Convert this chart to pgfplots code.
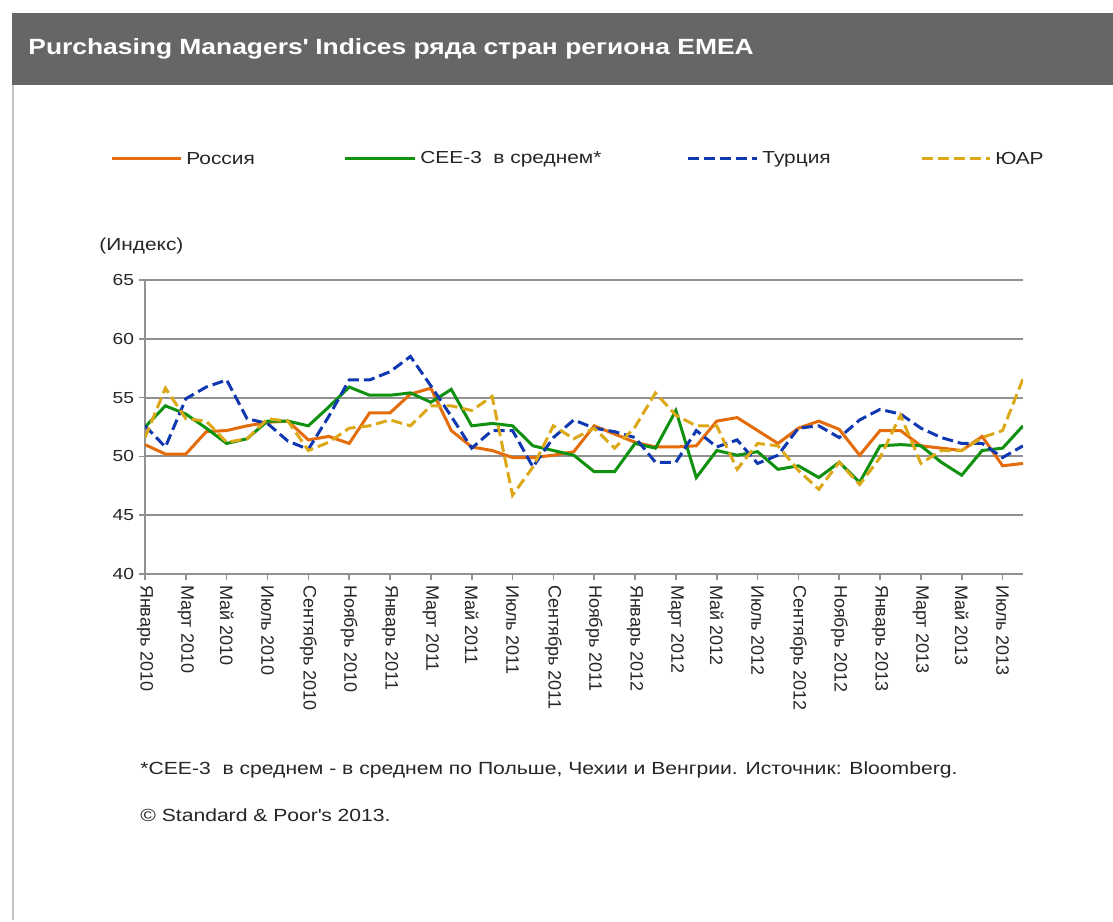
\documentclass[border=0pt]{standalone}
\usepackage{fontspec}
\setmainfont{Liberation Sans}[FakeStretch=1.2]
\newfontfamily\tickfont{Liberation Sans}
\usepackage{pgfplots}
\usepackage{pgfplotstable}
\pgfplotsset{compat=1.18}
\definecolor{ruor}{RGB}{228,108,10}
\definecolor{ceegr}{RGB}{16,145,16}
\definecolor{trbl}{RGB}{16,56,176}
\definecolor{zayl}{RGB}{220,168,24}
\definecolor{hdr}{RGB}{102,102,102}
\definecolor{grd}{RGB}{145,145,145}

% month index (0 = Jan 2010), Russia, CEE-3, Turkey, South Africa
\pgfplotstableread{
i  R     C     T     Z
0  51.0  52.5  52.6  51.6
1  50.2  54.3  50.8  55.8
2  50.2  53.6  54.9  53.2
3  52.1  52.4  55.9  53.0
4  52.2  51.1  56.5  51.2
5  52.6  51.5  53.2  51.5
6  52.9  53.0  52.8  53.2
7  53.0  53.0  51.3  53.0
8  51.4  52.6  50.6  50.5
9  51.7  54.2  53.4  51.2
10 51.1  55.9  56.5  52.4
11 53.7  55.2  56.5  52.6
12 53.7  55.2  57.2  53.1
13 55.3  55.4  58.5  52.6
14 55.8  54.6  56.0  54.3
15 52.2  55.7  53.4  54.3
16 50.8  52.6  50.7  53.9
17 50.5  52.8  52.2  55.1
18 49.9  52.6  52.2  46.7
19 49.9  50.9  49.1  49.1
20 50.1  50.5  51.6  52.6
21 50.4  50.1  53.1  51.5
22 52.6  48.7  52.4  52.4
23 51.9  48.7  52.1  50.7
24 51.2  51.1  51.6  52.5
25 50.8  50.7  49.5  55.4
26 50.8  53.9  49.5  53.5
27 50.9  48.2  52.2  52.6
28 53.0  50.5  50.8  52.6
29 53.3  50.1  51.4  48.9
30 52.2  50.4  49.4  51.1
31 51.1  48.9  50.1  50.9
32 52.4  49.2  52.4  48.8
33 53.0  48.2  52.6  47.2
34 52.3  49.5  51.6  49.5
35 50.1  47.8  53.1  47.6
36 52.2  50.9  54.0  49.9
37 52.2  51.0  53.6  53.5
38 50.9  50.9  52.4  49.4
39 50.7  49.5  51.6  50.5
40 50.5  48.4  51.1  50.5
41 51.7  50.5  51.1  51.6
42 49.2  50.7  49.9  52.2
43 49.4  52.6  50.9  56.6
}\pmidata

\begin{document}
\begin{tikzpicture}[x=0.5pt,y=0.5pt]
% canvas and frame
\fill[white] (0,0) rectangle (1113,920);
\fill[hdr] (12,835) rectangle (1113,907);
\draw[gray!45, line width=1pt] (13,0) -- (13,835);
\node[anchor=west, white, inner sep=0pt, font=\bfseries\fontsize{11}{12}\selectfont] at (28,871)
  {Purchasing Managers\textquotesingle\ Indices ряда стран региона EMEA};

% legend
\begin{scope}[font=\fontsize{8.7}{10}\selectfont, text=black!85]
\draw[ruor, line width=1.5pt] (112,761) -- (181,761);
\node[anchor=west, inner sep=0pt] at (186,761) {Россия};
\draw[ceegr, line width=1.5pt] (345,761) -- (415,761);
\node[anchor=west, inner sep=0pt] at (420,761) {CEE-3\ \ в среднем*};
\draw[trbl, line width=1.5pt, dash pattern=on 5.5pt off 2.5pt] (688,761) -- (757,761);
\node[anchor=west, inner sep=0pt] at (762,761) {Турция};
\draw[zayl, line width=1.5pt, dash pattern=on 5.5pt off 2.5pt] (922,761) -- (990,761);
\node[anchor=west, inner sep=0pt] at (995,761) {ЮАР};
\node[anchor=west, inner sep=0pt] at (99,674) {(Индекс)};
\end{scope}

\begin{axis}[
    at={(72.5pt,173pt)}, anchor=south west,
    width=439pt, height=147pt, scale only axis,
    xmin=0, xmax=43, ymin=40, ymax=65,
    ytick={40,45,...,65},
    xtick={0,2,...,42},
    xticklabels={Январь 2010, Март 2010, Май 2010, Июль 2010, Сентябрь 2010, Ноябрь 2010,
      Январь 2011, Март 2011, Май 2011, Июль 2011, Сентябрь 2011, Ноябрь 2011,
      Январь 2012, Март 2012, Май 2012, Июль 2012, Сентябрь 2012, Ноябрь 2012,
      Январь 2013, Март 2013, Май 2013, Июль 2013},
    axis x line*=bottom, axis y line*=left,
    axis line style={grd, line width=1pt, -},
    ymajorgrids, grid style={grd, line width=1pt},
    tick style={grd, line width=0.8pt},
    tick align=outside, major tick length=3pt,
    /pgf/number format/assume math mode=true,
    y tick label style={font=\fontsize{8}{9}\selectfont, text=black!85, xshift=1pt},
    x tick label style={rotate=-90, anchor=west, font=\tickfont\fontsize{9}{10}\selectfont, text=black!85, xshift=-1pt},
]
\addplot[ruor, line width=1.5pt] table[x=i, y=R] {\pmidata};
\addplot[ceegr, line width=1.5pt] table[x=i, y=C] {\pmidata};
\addplot[trbl, line width=1.5pt, dash pattern=on 5.5pt off 2.5pt] table[x=i, y=T] {\pmidata};
\addplot[zayl, line width=1.5pt, dash pattern=on 5.5pt off 2.5pt] table[x=i, y=Z] {\pmidata};
\end{axis}

% notes
\begin{scope}[font=\fontsize{8.8}{10}\selectfont, text=black!85]
\node[anchor=west, inner sep=0pt] at (140,150)
  {*CEE-3\ \ в среднем - в среднем по Польше, Чехии и Венгрии. Источник: Bloomberg.};
\node[anchor=west, inner sep=0pt] at (140,105) {© Standard \& Poor\textquotesingle s 2013.};
\end{scope}
\end{tikzpicture}
\end{document}
